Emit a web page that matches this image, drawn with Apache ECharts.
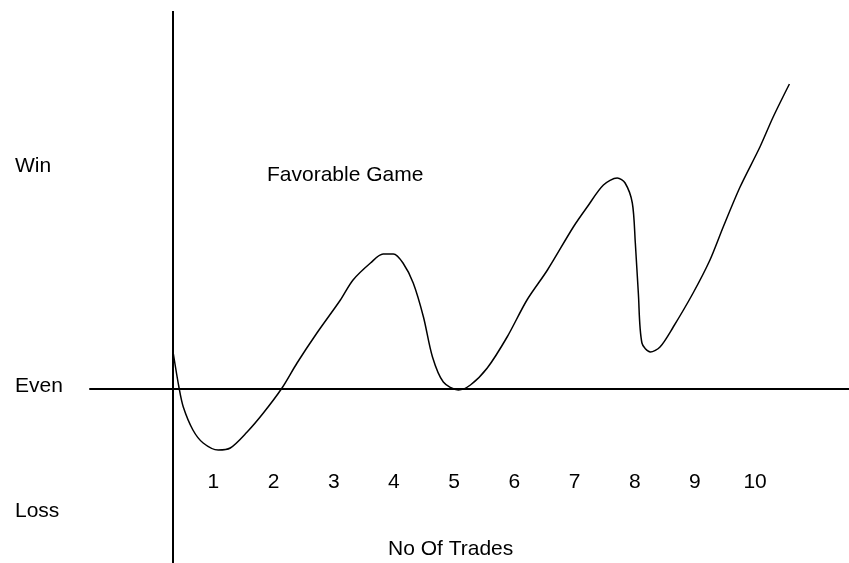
<!DOCTYPE html>
<html>
<head>
<meta charset="utf-8">
<script src="https://cdn.jsdelivr.net/npm/echarts@6/dist/echarts.min.js"></script>
<style>
html,body{margin:0;padding:0;background:#fff;}
#chart{width:849px;height:563px;}
</style>
</head>
<body>
<div id="chart"></div>
<script>
// Curve: x = number of trades, y = equity relative to "Even"
const curveX = [0.33,0.43,0.50,0.66,0.83,1.08,1.28,1.56,1.83,2.14,2.39,2.72,3.11,3.32,3.61,3.82,3.99,4.15,4.32,4.49,4.64,4.82,5.07,5.27,5.55,5.88,6.21,6.55,6.98,7.21,7.48,7.71,7.84,7.96,8.01,8.06,8.12,8.26,8.42,8.64,8.97,9.25,9.47,9.75,10.08,10.30,10.57];
const curveY = [3.7,0.1,-1.8,-4.1,-5.4,-6.1,-5.9,-4.3,-2.4,0.1,2.6,5.6,8.9,10.9,12.6,13.5,13.5,12.6,10.6,7.2,3.2,0.7,-0.1,0.4,2.1,5.2,8.9,11.9,16.2,18.2,20.4,21.1,20.6,18.6,14.6,9.6,4.6,3.7,4.2,6.2,9.6,12.9,16.2,20.2,24.2,27.2,30.5];
const xTickValues = [1,2,3,4,5,6,7,8,9,10];
const yLabelValues = [22.3, 0.3, -12.2];
const yLabelTexts = ['Win', 'Even', 'Loss'];
const verticalAxisAt = 0.33;
const chartNote = 'Favorable Game';
const xTitle = 'No Of Trades';

const FONT = '"Liberation Sans", Arial, sans-serif';
const chart = echarts.init(document.getElementById('chart'), null, {renderer: 'canvas'});
chart.setOption({
  animation: false,
  backgroundColor: '#fff',
  grid: {left: 90, right: 0, top: 11, bottom: 0, containLabel: false, outerBoundsMode: 'none'},
  xAxis: {
    type: 'value', min: -1.05, max: 11.56,
    axisLine: {show: true, onZero: true, lineStyle: {color: '#000', width: 2}},
    axisTick: {show: false},
    splitLine: {show: false},
    axisLabel: {
      customValues: xTickValues, margin: -91,
      color: '#000', fontSize: 21, fontFamily: FONT,
      formatter: v => String(v)
    }
  },
  yAxis: {
    type: 'value', min: -17.4, max: 37.8,
    axisLine: {show: false},
    axisTick: {show: false},
    splitLine: {show: false},
    axisLabel: {
      customValues: yLabelValues, margin: 75, align: 'left',
      color: '#000', fontSize: 21, fontFamily: FONT,
      formatter: v => { const i = yLabelValues.indexOf(v); return i >= 0 ? yLabelTexts[i] : ''; }
    }
  },
  graphic: [
    {type: 'text', left: 267, top: 165, style: {text: chartNote, fill: '#000', font: '21px ' + FONT}},
    {type: 'text', left: 388, top: 539, style: {text: xTitle, fill: '#000', font: '21px ' + FONT}}
  ],
  series: [{
    type: 'line',
    data: curveX.map((x, i) => [x, curveY[i]]),
    smooth: 0.3,
    showSymbol: false,
    lineStyle: {color: '#000', width: 1.5},
    markLine: {
      silent: true, symbol: 'none', label: {show: false},
      lineStyle: {color: '#000', width: 2, type: 'solid'},
      data: [{xAxis: verticalAxisAt}]
    }
  }]
});
</script>
</body>
</html>
